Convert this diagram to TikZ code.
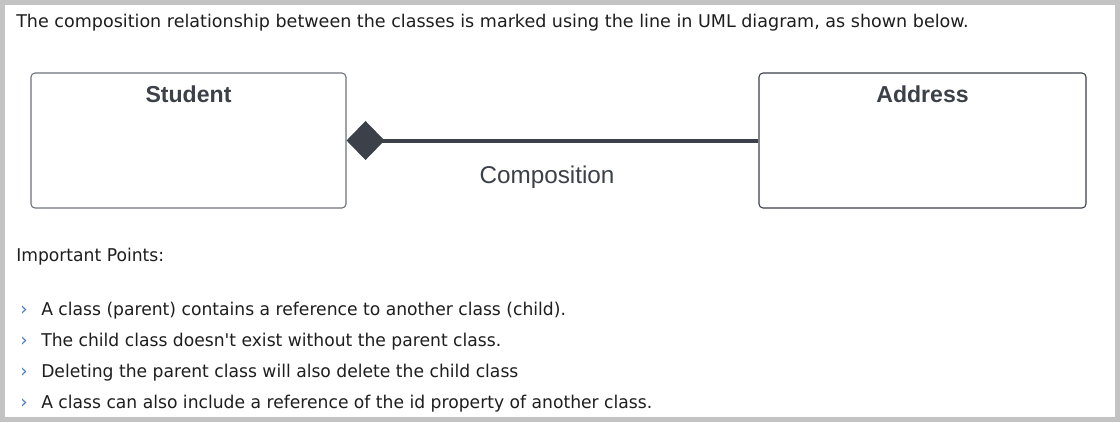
\documentclass[tikz,border=0pt]{standalone}
\usepackage{fontspec}
\usetikzlibrary{arrows.meta}
\newfontfamily\verdfont{DejaVu Sans}
\newfontfamily\tahfont[FakeStretch=0.975]{DejaVu Sans}
\newfontfamily\umlfont{Liberation Sans}
\definecolor{umldark}{HTML}{3B4049}
\definecolor{boxgray}{HTML}{6E7278}
\definecolor{framegray}{HTML}{C3C3C3}
\definecolor{chevblue}{HTML}{4A7FC1}
\definecolor{bodytext}{HTML}{1E1E1E}
\tikzset{
  classbox/.style={draw=boxgray, line width=0.8pt, rounded corners=3pt, minimum height=101.25pt, inner sep=0pt},
  classname/.style={font=\umlfont\fontsize{17.3}{20}\selectfont\bfseries, text=umldark, anchor=base, inner sep=0pt},
  comp/.style={draw=umldark, line width=3pt, {Diamond[length=28.5pt 0 0, width=29.25pt 0 0, fill=umldark]}-},
  bodyline/.style={font=\tahfont\fontsize{13.2}{15}\selectfont, text=bodytext, anchor=base west, inner sep=0pt},
  chev/.style={font=\tahfont\fontsize{14}{15}\selectfont, text=chevblue, anchor=base west, inner sep=0pt}
}
\begin{document}
\begin{tikzpicture}[x=0.75pt, y=-0.75pt]
        \useasboundingbox (0,0) rectangle (1120,422);
        \fill [framegray] (0,0) rectangle (1120,422);
        \fill [white] (5,5) rectangle (1115,417);
        \node [anchor=base west, inner sep=0pt, text=bodytext, font=\verdfont\fontsize{13.15}{15}\selectfont] (intro) at (16,27) {The composition relationship between the classes is marked using the line in UML diagram, as shown below.};
        % the two classes
        \node [classbox, minimum width=236.25pt] (student) at (188.5,140.5) {};
        \node [classbox, minimum width=245.25pt, draw=umldark] (address) at (922.5,140.5) {};
        \node [classname] (studentname) at (188.5,102) {Student};
        \node [classname] (addressname) at (922.5,102) {Address};
        \draw [comp] (student.east) -- (address.west);
        \node [anchor=base, inner sep=0pt, text=umldark, font=\umlfont\fontsize{18.2}{20}\selectfont] (complabel) at (547,183) {Composition};
        % points
        \node [bodyline] (points) at (16,261) {Important Points:};
        \node [chev] (c1) at (20,315) {›};
        \node [bodyline] (p1) at (41,315) {A class (parent) contains a reference to another class (child).};
        \node [chev] (c2) at (20,346) {›};
        \node [bodyline] (p2) at (41,346) {The child class doesn't exist without the parent class.};
        \node [chev] (c3) at (20,377) {›};
        \node [bodyline] (p3) at (41,377) {Deleting the parent class will also delete the child class};
        \node [chev] (c4) at (20,408) {›};
        \node [bodyline] (p4) at (41,408) {A class can also include a reference of the id property of another class.};
\end{tikzpicture}
\end{document}
